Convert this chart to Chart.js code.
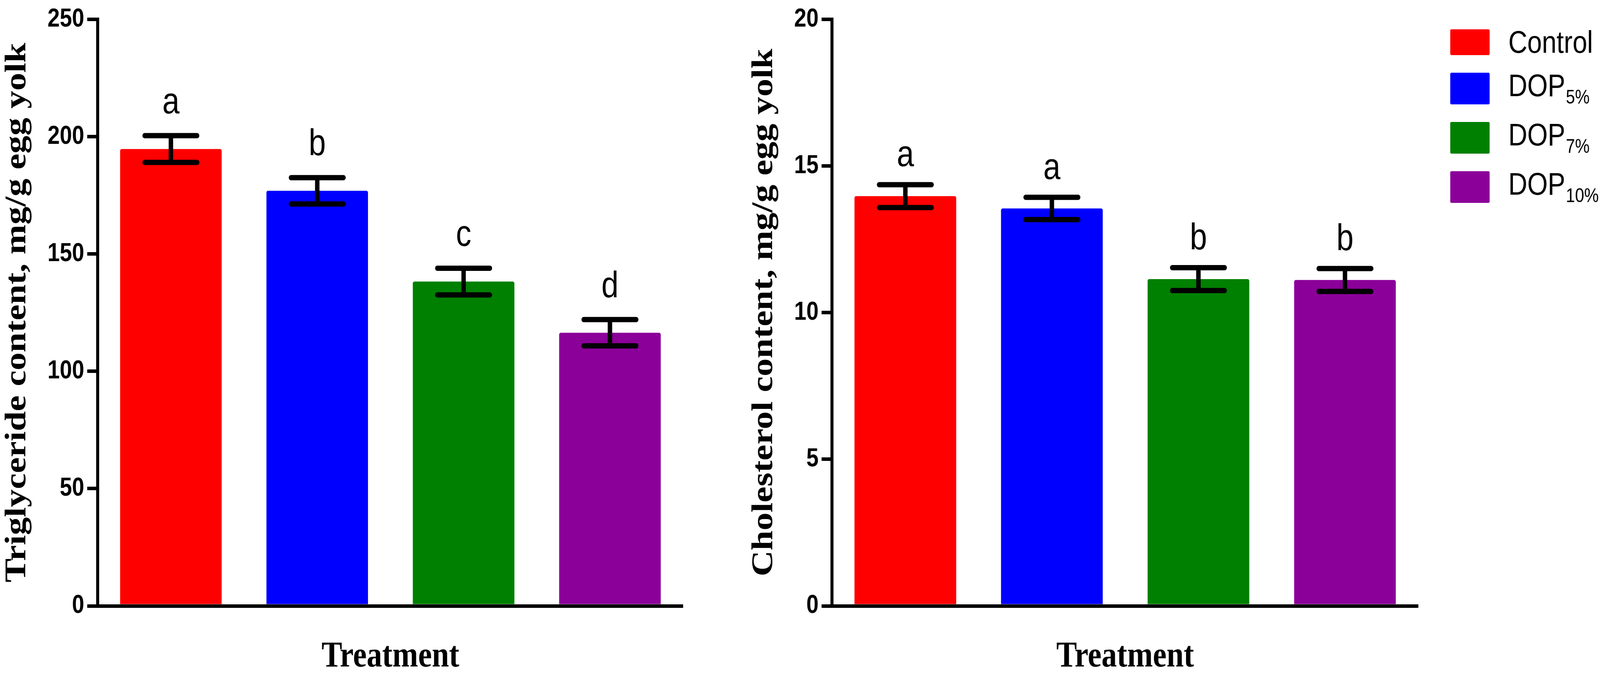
<!DOCTYPE html>
<html>
<head>
<meta charset="utf-8">
<script src="https://cdn.jsdelivr.net/npm/chart.js@4/dist/chart.umd.min.js"></script>
<style>
  html, body { margin:0; padding:0; background:#fff; overflow:hidden; }
  body { width:4118px; height:1737px; position:relative; }
  .wrap { position:absolute; top:0; height:1737px; transform-origin:0 0; }
</style>
</head>
<body>
<div class="wrap" id="w1" style="left:0px;"><canvas id="c1"></canvas></div>
<div class="wrap" id="w2" style="left:1900px;"><canvas id="c2"></canvas></div>
<script>
// ---------- data ----------
const categories = ['Control', 'DOP5%', 'DOP7%', 'DOP10%'];
const barColors = ['#FF0000', '#0000FF', '#008000', '#8B0099'];

const triglyceride = [194.7, 176.9, 138.2, 116.4];
const triglycerideErr = [5.7, 5.6, 5.7, 5.6];
const triglycerideLetters = ['a', 'b', 'c', 'd'];
const triglycerideTicks = [0, 50, 100, 150, 200, 250];

const cholesterol = [13.97, 13.55, 11.14, 11.11];
const cholesterolErr = [0.39, 0.38, 0.39, 0.39];
const cholesterolLetters = ['a', 'a', 'b', 'b'];
const cholesterolTicks = [0, 5, 10, 15, 20];

const leftTitle = 'Triglyceride content, mg/g egg yolk';
const rightTitle = 'Cholesterol content, mg/g egg yolk';
const xTitle = 'Treatment';

// ---------- layout / style ----------
const S = 0.84; // horizontal squeeze of the figure
const W1 = 1900 / S, W2 = 2218 / S;
document.getElementById('w1').style.width = W1 + 'px';
document.getElementById('w2').style.width = W2 + 'px';
document.getElementById('w1').style.transform = 'scaleX(' + S + ')';
document.getElementById('w2').style.transform = 'scaleX(' + S + ')';

Chart.defaults.font.family = '"Liberation Sans", Arial, sans-serif';
Chart.defaults.color = '#000';

const errorBarPlugin = {
  id: 'errorBars',
  afterDatasetsDraw(chart, args, opts) {
    const ctx = chart.ctx;
    const meta = chart.getDatasetMeta(0);
    const ys = chart.scales.y;
    const vals = chart.data.datasets[0].data;
    ctx.save();
    ctx.strokeStyle = '#000';
    ctx.lineWidth = 13.5;
    ctx.lineCap = 'round';
    meta.data.forEach((bar, i) => {
      const x = bar.x;
      const yt = ys.getPixelForValue(vals[i] + opts.err[i]);
      const yb = ys.getPixelForValue(vals[i] - opts.err[i]);
      const hw = 80;
      ctx.beginPath();
      ctx.lineCap = 'butt';
      ctx.moveTo(x, yt); ctx.lineTo(x, yb);
      ctx.stroke();
      ctx.lineCap = 'round';
      ctx.beginPath();
      ctx.moveTo(x - hw, yt); ctx.lineTo(x + hw, yt);
      ctx.moveTo(x - hw, yb); ctx.lineTo(x + hw, yb);
      ctx.stroke();
      // significance letter
      ctx.fillStyle = '#000';
      ctx.font = '94px "Liberation Sans", Arial, sans-serif';
      ctx.textAlign = 'center';
      ctx.textBaseline = 'alphabetic';
      ctx.fillText(opts.letters[i], x, yt - opts.gap);
    });
    ctx.restore();
  }
};

const legendPlugin = {
  id: 'customLegend',
  afterDraw(chart, args, opts) {
    if (!opts.show) return;
    const ctx = chart.ctx;
    ctx.save();
    let top = 75;
    const sqX = 2157, sqW = 120, txtX = 2334;
    categories.forEach((cat, i) => {
      const m = cat.match(/^(.*?)(\d+%)$/);
      const base = m ? m[1] : cat;
      const sub = m ? m[2] : '';
      const h = sub ? 81 : 66;
      ctx.fillStyle = barColors[i];
      ctx.beginPath();
      if (ctx.roundRect) ctx.roundRect(sqX, top, sqW, h, 4); else ctx.rect(sqX, top, sqW, h);
      ctx.fill();
      ctx.fillStyle = '#000';
      ctx.textAlign = 'left';
      ctx.textBaseline = 'alphabetic';
      ctx.font = '80px "Liberation Sans", Arial, sans-serif';
      const baseY = top + 60;
      ctx.fillText(base, txtX, baseY);
      if (sub) {
        const bw = ctx.measureText(base).width;
        ctx.font = '50px "Liberation Sans", Arial, sans-serif';
        ctx.fillText(sub, txtX + bw + 2, baseY + 19);
      }
      top += h + 45;
    });
    ctx.restore();
  }
};

function makeChart(canvasId, values, errs, letters, ticks, yTitle, cfg) {
  return new Chart(document.getElementById(canvasId), {
    type: 'bar',
    data: {
      labels: categories,
      datasets: [{
        data: values,
        backgroundColor: barColors,
        borderWidth: 0,
        borderRadius: { topLeft: 5, topRight: 5, bottomLeft: 0, bottomRight: 0 },
        borderSkipped: 'bottom',
        categoryPercentage: 1.0,
        barPercentage: 0.694
      }]
    },
    options: {
      responsive: true,
      maintainAspectRatio: false,
      devicePixelRatio: 1,
      animation: false,
      events: [],
      layout: { padding: { left: 0, right: cfg.padRight, top: cfg.padTop, bottom: 0 } },
      plugins: {
        legend: { display: false },
        tooltip: { enabled: false },
        errorBars: { err: errs, letters: letters, gap: cfg.gap },
        customLegend: { show: cfg.legend }
      },
      scales: {
        x: {
          z: 1,
          grid: { display: false },
          border: { display: true, color: '#000', width: 9 },
          ticks: { display: false },
          title: {
            display: true, text: xTitle, color: '#000',
            font: { family: '"Liberation Serif", "Times New Roman", serif', size: 94, weight: 'bold', lineHeight: 1 },
            padding: { top: 0, bottom: 9 }
          },
          afterFit(scale) { scale.height = 187; }
        },
        y: {
          z: 1,
          min: ticks[0],
          max: ticks[ticks.length - 1],
          afterBuildTicks(scale) { scale.ticks = ticks.map(v => ({ value: v })); },
          grid: { display: true, drawOnChartArea: false, drawTicks: true, tickLength: 32, color: '#000', lineWidth: 9 },
          border: { display: true, color: '#000', width: 9 },
          ticks: {
            padding: 9,
            color: '#000',
            font: { family: '"Liberation Sans", Arial, sans-serif', size: 67, weight: 'bold' }
          },
          title: {
            display: true, text: yTitle, color: '#000',
            font: { family: '"Liberation Serif", "Times New Roman", serif', size: 92, weight: 'bold', lineHeight: 1 },
            padding: { top: cfg.titlePad, bottom: 0 }
          },
          afterFit(scale) { scale.width = cfg.yWidth; }
        }
      }
    },
    plugins: [errorBarPlugin, legendPlugin]
  });
}

makeChart('c1', triglyceride, triglycerideErr, triglycerideLetters, triglycerideTicks, leftTitle,
  { padRight: W1 - 1748 / S, padTop: 45, yWidth: 250 / S, titlePad: 7, gap: 57, legend: false });
makeChart('c2', cholesterol, cholesterolErr, cholesterolLetters, cholesterolTicks, rightTitle,
  { padRight: W2 - 1730 / S, padTop: 42, yWidth: 230 / S, titlePad: 21, gap: 47, legend: true });
</script>
</body>
</html>
